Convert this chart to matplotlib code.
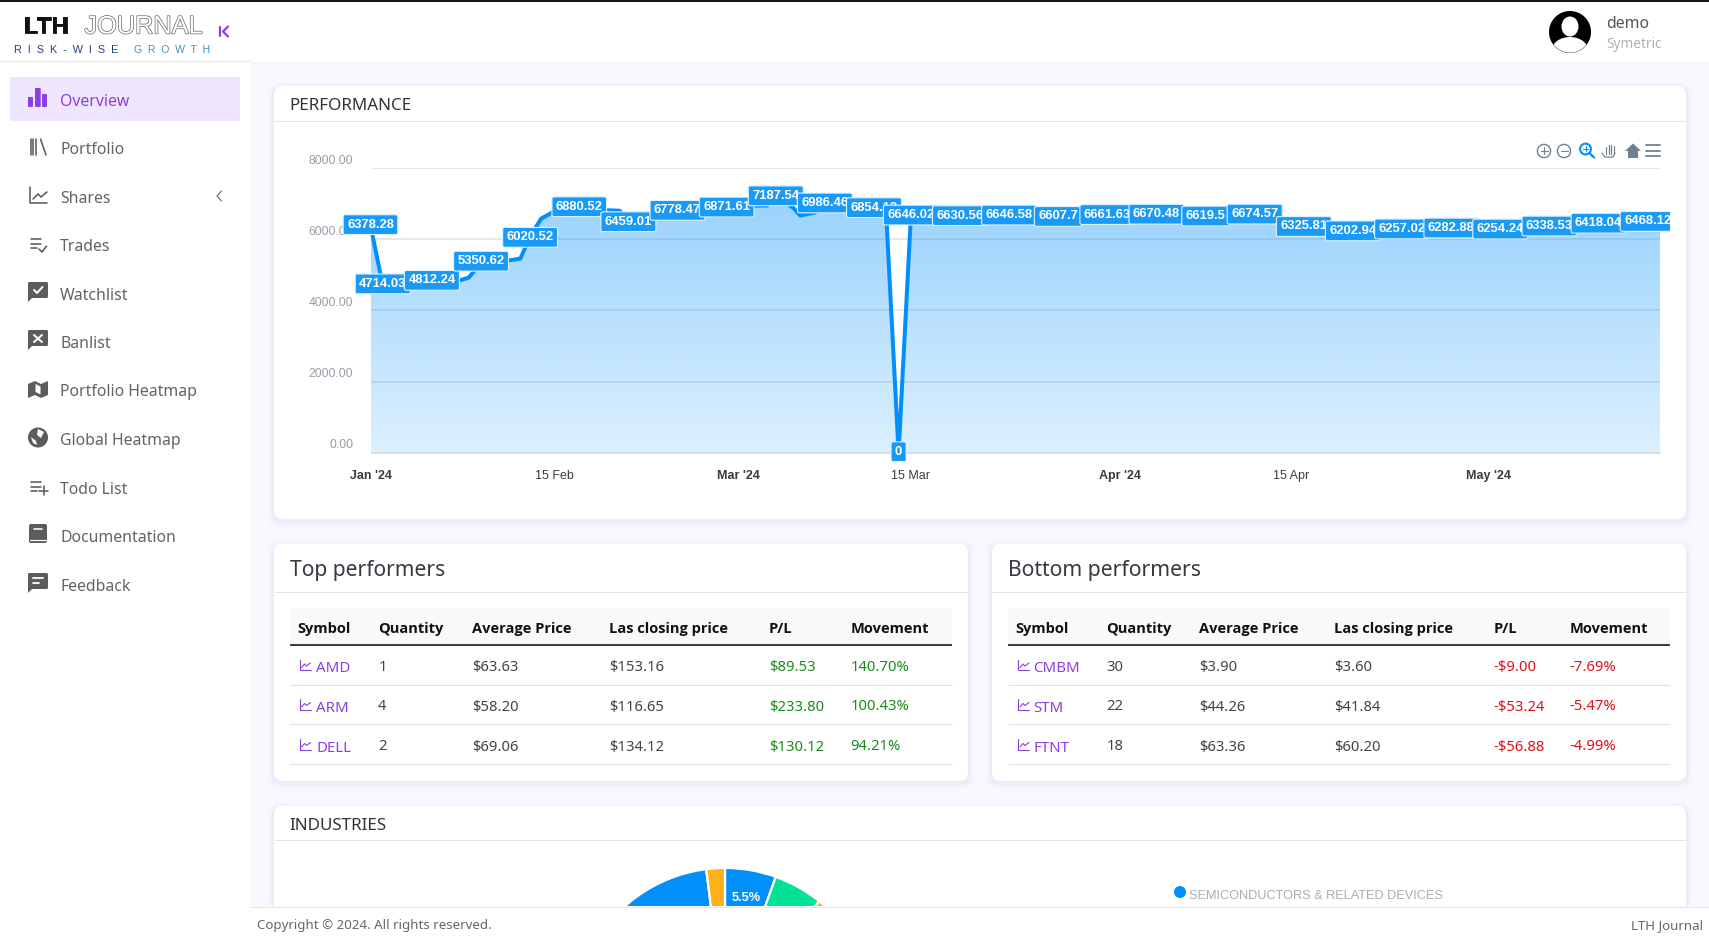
import numpy as np
import matplotlib
matplotlib.use("Agg")
import matplotlib.pyplot as plt
from matplotlib.patches import Rectangle, FancyBboxPatch, Circle, Ellipse, Polygon
from matplotlib.transforms import ScaledTranslation
import matplotlib.patheffects as pe

W, H = 1709, 938
PAGE = "#f8f9ff"
PURPLE = "#8a3fe0"
GREY = "#5c5c5c"
BLUE = "#008FFB"

# ---- data -------------------------------------------------------------
line_days = [0, 1, 5, 7.2, 8, 8.6, 9, 11.2, 12.2, 12.6, 13, 13.4, 13.9, 14.8, 17, 19.5, 20.3, 21, 25, 29,
             31.5, 32.3, 33, 34.4, 35, 36.2, 37, 41, 42, 43, 44, 48, 52, 56, 60, 64, 68, 72, 76, 80, 84,
             88, 92, 96, 100, 104, 105]
line_values = [6378.28, 4714.03, 4812.24, 4837, 4920, 5170, 5350.62, 5400, 5455, 5765, 6020.52, 6300, 6580, 6750,
               6880.52, 6810, 6800, 6459.01, 6778.47, 6871.61, 6945, 6945, 7187.54, 6890, 6665, 6750,
               6986.46, 6854.12, 6650, 0, 6646.02, 6630.56, 6646.58, 6607.7, 6661.63, 6670.48, 6619.5,
               6674.57, 6325.81, 6202.94, 6257.02, 6282.88, 6254.24, 6338.53, 6418.04, 6468.12, 6468.12]
label_days = [0, 1, 5, 9, 13, 17, 21, 25, 29, 33, 37, 41, 43, 44, 48, 52, 56, 60, 64, 68, 72, 76, 80, 84,
              88, 92, 96, 100, 104]
label_values = ["6378.28", "4714.03", "4812.24", "5350.62", "6020.52", "6880.52", "6459.01", "6778.47",
                "6871.61", "7187.54", "6986.46", "6854.12", "0", "6646.02", "6630.56", "6646.58", "6607.7",
                "6661.63", "6670.48", "6619.5", "6674.57", "6325.81", "6202.94", "6257.02", "6282.88",
                "6254.24", "6338.53", "6418.04", "6468.12"]
y_ticks = [0, 2000, 4000, 6000, 8000]
x_tick_days = [0, 15, 30, 44, 61, 75, 91]
x_tick_labels = ["Jan '24", "15 Feb", "Mar '24", "15 Mar", "Apr '24", "15 Apr", "May '24"]
x_tick_bold = [True, False, True, False, True, False, True]

menu_items = ["Overview", "Portfolio", "Shares", "Trades", "Watchlist", "Banlist", "Portfolio Heatmap",
              "Global Heatmap", "Todo List", "Documentation", "Feedback"]
table_head = ["Symbol", "Quantity", "Average Price", "Las closing price", "P/L", "Movement"]
top_rows = [["AMD", "1", "$63.63", "$153.16", "$89.53", "140.70%"],
            ["ARM", "4", "$58.20", "$116.65", "$233.80", "100.43%"],
            ["DELL", "2", "$69.06", "$134.12", "$130.12", "94.21%"]]
bottom_rows = [["CMBM", "30", "$3.90", "$3.60", "-$9.00", "-7.69%"],
               ["STM", "22", "$44.26", "$41.84", "-$53.24", "-5.47%"],
               ["FTNT", "18", "$63.36", "$60.20", "-$56.88", "-4.99%"]]
pie_values = [5.5, 5.3, 12, 16, 16, 15, 15.2, 13, 2]
pie_colors = ["#008FFB", "#00E396", "#FEB019", "#FF4560", "#775DD0", "#008FFB", "#00E396", "#008FFB", "#FEB019"]

# ---- canvas helpers -----------------------------------------------------
fig = plt.figure(figsize=(W / 100, H / 100), dpi=100, facecolor=PAGE)


def full_axes(z):
    a = fig.add_axes([0, 0, 1, 1], zorder=z)
    a.set_xlim(0, W)
    a.set_ylim(H, 0)
    a.axis("off")
    a.patch.set_alpha(0)
    return a


bg = full_axes(0)
top = full_axes(5)


def px_axes(x0, y0, x1, y1, z):
    return fig.add_axes([x0 / W, 1 - y1 / H, (x1 - x0) / W, (y1 - y0) / H], zorder=z)


def T(a, x, y, s, px, color="#444444", weight="normal", ha="left", family="Noto Sans", **kw):
    return a.text(x, y, s, fontsize=px * 0.72, color=color, fontweight=weight, ha=ha, va="baseline",
                  family=family, **kw)


def rect(a, x0, y0, x1, y1, color, z=1, **kw):
    a.add_patch(Rectangle((x0, y0), x1 - x0, y1 - y0, facecolor=color, edgecolor="none", zorder=z, **kw))


def hline(a, x0, x1, y, color="#e4e4e4", lw=1.0, z=3):
    a.plot([x0, x1], [y, y], color=color, lw=lw * 0.72, zorder=z, solid_capstyle="butt")


def poly(a, pts, color=GREY, lw=1.6, close=False, z=4, fill=False):
    xs, ys = zip(*pts)
    if fill:
        a.add_patch(Polygon(pts, closed=True, facecolor=color, edgecolor="none", zorder=z))
    else:
        a.plot(xs, ys, color=color, lw=lw * 0.72, zorder=z, solid_capstyle="round", solid_joinstyle="round")


def rrect(a, x0, y0, x1, y1, r, color, z=2, alpha=1.0):
    a.add_patch(FancyBboxPatch((x0 + r, y0 + r), x1 - x0 - 2 * r, y1 - y0 - 2 * r,
                               boxstyle=f"round,pad={r},rounding_size={r}", facecolor=color, edgecolor="none",
                               zorder=z, alpha=alpha))


def card(x0, y0, x1, y1):
    for g, al in ((7, 0.10), (4, 0.16), (2, 0.22)):
        rrect(bg, x0 - g, y0 - g + 2, x1 + g, y1 + g + 2, 10, "#dcdcf6", z=1, alpha=al)
    rrect(bg, x0, y0, x1, y1, 9, "white", z=2)


# ---- page furniture ------------------------------------------------------
rect(bg, 0, 0, W, 62, "white", z=1)
for i, al in enumerate((0.10, 0.06, 0.03)):
    rect(bg, 250, 62 + i, W, 63 + i, "#c8c8e8", z=1, alpha=al)
rect(top, 0, 0, 250, H, "white", z=0)
rect(top, 0, 0, W, 2, "#16161a", z=6)
hline(top, 0, 250, 61.3, "#e8e8e8", 1.2)

# logo
T(top, 23.5, 33.5, "LTH", 24, "#111111", "bold", family="Liberation Sans",
  path_effects=[pe.withStroke(linewidth=0.6, foreground="#111111")])
T(top, 84.5, 33.5, "JOURNAL", 25.3, "white", "normal", family="Liberation Sans",
  path_effects=[pe.withStroke(linewidth=1.0, foreground="#666666")])
T(top, 14, 53, "R  I  S  K  -  W  I  S  E", 10.8, "#25407f", family="Liberation Sans")
T(top, 134, 53, "G  R  O  W  T  H", 10.5, "#3d93c9", family="Liberation Sans")
poly(top, [(220, 27), (220, 36)], PURPLE, 2.2)
poly(top, [(228, 26.5), (223, 31.5), (228, 36.5)], PURPLE, 2.2)

# sidebar
row_y = [99.5, 147.5, 196.5, 244.5, 293.5, 341.5, 390, 438.5, 487.5, 535.5, 584.5]
rect(top, 10, 77, 240, 121, "#efe5fd", z=1)
for i, (lab, y) in enumerate(zip(menu_items, row_y)):
    T(top, 60.3, y + 6.1, lab, 15.8, PURPLE if i == 0 else "#636363")
for x0, x1, y0 in ((28, 33, 97), (35, 40.7, 88), (42, 47, 94)):
    rrect(top, x0, y0, x1, 107, 1, PURPLE, z=4)
for x in (30.8, 33.3, 35.8):
    poly(top, [(x, 139), (x, 155)], GREY, 1.6)
poly(top, [(40.5, 139), (46, 155)], GREY, 1.6)
poly(top, [(30, 187), (30, 203.5), (47, 203.5)], GREY, 1.6)
poly(top, [(33, 199), (38, 194), (41, 197), (47, 192)], GREY, 1.6)
for yy, xe in ((239.5, 41), (244, 41), (248.5, 37)):
    poly(top, [(30.5, yy), (xe, yy)], GREY, 1.6)
poly(top, [(39, 249), (42, 252), (46.5, 246)], GREY, 1.6)


def bubble(y0, y1):
    rrect(top, 28, y0, 48, y1, 1.5, GREY, z=4)
    poly(top, [(28, y1 - 1), (28, y1 + 4), (33, y1 - 1)], GREY, fill=True)


bubble(282, 298)
poly(top, [(34, 290), (37, 293), (42.5, 287)], "white", 2, z=5)
bubble(330, 346)
poly(top, [(34, 335), (42, 342)], "white", 2, z=5)
poly(top, [(42, 335), (34, 342)], "white", 2, z=5)
poly(top, [(28, 384), (35, 381), (41, 384), (48, 381), (48, 395), (41, 398), (35, 395), (28, 398)], GREY, fill=True)
poly(top, [(35.5, 384), (40.5, 386.5), (40.5, 394.5), (35.5, 392)], "white", fill=True, z=5)
top.add_patch(Circle((38, 437.5), 10, facecolor=GREY, edgecolor="none", zorder=4))
poly(top, [(38, 429), (44, 432), (41, 438), (37, 435)], "white", fill=True, z=5)
poly(top, [(31, 437), (36, 441), (37, 445), (33, 443)], "white", fill=True, z=5)
for yy, xe in ((482, 41), (487, 41), (491.5, 37)):
    poly(top, [(30.5, yy), (xe, yy)], GREY, 1.6)
poly(top, [(39, 491), (48, 491)], GREY, 1.6)
poly(top, [(43.5, 486.5), (43.5, 495)], GREY, 1.6)
rrect(top, 29, 524, 47, 543, 2, GREY, z=4)
poly(top, [(30, 540), (46, 540)], "white", 1.2, z=5)
poly(top, [(34, 529), (42, 529)], "white", 1.6, z=5)
bubble(573, 589)
poly(top, [(33, 578), (43, 578)], "white", 1.8, z=5)
poly(top, [(33, 583), (39, 583)], "white", 1.8, z=5)
poly(top, [(221.5, 191), (217, 196), (221.5, 201)], "#707070", 1.2)

# user
top.add_patch(Circle((1570, 32), 21, facecolor="black", edgecolor="none", zorder=3))
top.add_patch(Ellipse((1570, 26.5), 17, 20, facecolor="white", edgecolor="none", zorder=4))
sh = Ellipse((1570, 50), 36, 26, facecolor="white", edgecolor="none", zorder=4)
top.add_patch(sh)
sh.set_clip_path(Circle((1570, 32), 20.7, transform=top.transData))
T(top, 1606.3, 28, "demo", 15.8, "#555555")
T(top, 1606.3, 48, "Symetric", 13.7, "#b2b2b2")

# cards
card(274, 86, 1686, 519)
hline(bg, 274, 1686, 121.5)
T(bg, 289.5, 110.5, "PERFORMANCE", 17, "#333333")

card(274, 543.5, 968, 781)
hline(bg, 274, 968, 591.7)
T(bg, 290, 575.8, "Top performers", 21, "#343a40")

card(992, 543.5, 1686, 781)
hline(bg, 992, 1686, 591.7)
T(bg, 1008, 575.8, "Bottom performers", 21.2, "#343a40")


def table(rows, x0, x1, cols, sym_icon_x, sym_text_x, num_color):
    rect(bg, x0, 608, x1, 645, "#f8f9fa", z=3)
    hline(bg, x0, x1, 645.3, "#111111", 1.6, z=4)
    for c, lab in zip(cols, table_head):
        T(bg, c - 0.8, 632.8, lab, 14.6, "#111111", "bold", zorder=5, family="Open Sans")
    for r, yb, yl in zip(rows, (671, 710.5, 750.5), (685.3, 724.3, 764.3)):
        hline(bg, x0, x1, yl, "#e2e2e2", 1.2)
        xx = sym_icon_x
        poly(bg, [(xx, yb - 11), (xx, yb - 0.5), (xx + 11, yb - 0.5)], PURPLE, 1.1, z=5)
        poly(bg, [(xx + 2, yb - 3.5), (xx + 5, yb - 7), (xx + 7, yb - 5), (xx + 11, yb - 8)], PURPLE, 1.1, z=5)
        T(bg, sym_text_x - 0.5, yb + 1, r[0], 15, PURPLE, zorder=5)
        for j in (1, 2, 3):
            T(bg, cols[j] - 0.8, yb, r[j], 14.8, "#444444", zorder=5)
        for j in (4, 5):
            T(bg, cols[j] - 0.5, yb, r[j], 14.8, num_color, zorder=5)


table(top_rows, 290, 952, [298, 379, 473, 609.5, 769.5, 851], 299.5, 317, "#1d8a1d")
table(bottom_rows, 1008, 1670, [1016, 1107, 1200, 1335, 1494, 1570], 1018, 1034, "#d9141e")

card(274, 805.5, 1686, 960)
hline(bg, 274, 1686, 840.3)
T(bg, 289.5, 829.7, "INDUSTRIES", 17, "#333333")

# pie (lower part hidden by the footer)
pax = px_axes(575, 868, 875, 1168, 1)
pax.pie(pie_values, colors=pie_colors, startangle=90, counterclock=False, radius=1,
        wedgeprops=dict(edgecolor="white", linewidth=1.6),
        autopct=lambda p: f"{p:.1f}%" if 5 < p < 6 else "", pctdistance=0.81,
        textprops=dict(color="white", fontsize=12.8 * 0.72, fontweight="bold", family="Liberation Sans"))
pax.set_xlim(-1, 1)
pax.set_ylim(-1, 1)

bg.add_patch(Circle((1180, 892), 6, facecolor=BLUE, edgecolor="none", zorder=5))
T(bg, 1188.7, 899, "SEMICONDUCTORS & RELATED DEVICES", 12.8, "#a9adb7", family="Liberation Sans", zorder=5)

# footer
rect(top, 250, 906, W, H, "white", z=1)
hline(top, 250, W, 906.6, "#e6e6e6", 1.2)
T(top, 257, 928.8, "Copyright © 2024. All rights reserved.", 13.3, "#666666")
T(top, 1703, 928.8, "LTH Journal", 13.3, "#666666", ha="right")

# ---- performance chart ----------------------------------------------------
ax = px_axes(370.5, 168, 1660, 452.8, 2)
ax.patch.set_alpha(0)
ax.set_xlim(0, 105)
ax.set_ylim(0, 8000)
for s in ("top", "left", "right"):
    ax.spines[s].set_visible(False)
ax.spines["bottom"].set_color("#e0e0e0")
ax.set_axisbelow(True)
ax.yaxis.grid(True, color="#e8e8e8", lw=1.4)
ax.xaxis.grid(False)
ax.tick_params(length=0)
ax.set_yticks(y_ticks)
ax.set_yticklabels([f"{v:.2f}" for v in y_ticks], fontsize=12.3 * 0.72, color="#9c9cab", family="Liberation Sans")
for tl in ax.get_yticklabels():
    tl.set_transform(tl.get_transform() + ScaledTranslation(-0.125, 0.09, fig.dpi_scale_trans))
ax.set_xticks(x_tick_days)
ax.set_xticklabels(x_tick_labels, fontsize=12.5 * 0.72, color="#373d3f", family="Liberation Sans")
for tl, b in zip(ax.get_xticklabels(), x_tick_bold):
    tl.set_fontweight("bold" if b else "normal")
ax.tick_params(axis="x", pad=12.2)

area = ax.fill_between(line_days, line_values, 0, facecolor="none", edgecolor="none", zorder=2)
alpha_grad = np.linspace(0.40, 0.14, 256)[:, None]
rgba = np.zeros((256, 1, 4))
rgba[..., 0], rgba[..., 1], rgba[..., 2] = 0 / 255, 143 / 255, 251 / 255
rgba[..., 3] = alpha_grad
im = ax.imshow(rgba, extent=[0, 105, 0, max(line_values)], aspect="auto", origin="upper", zorder=2)
im.set_clip_path(area.get_paths()[0], ax.transData)
ax.set_xlim(0, 105)
ax.set_ylim(0, 8000)
ax.plot(line_days, line_values, color=BLUE, lw=4 * 0.72, zorder=3, clip_on=False, solid_joinstyle="round")

clip_rect = Rectangle((-40, -800), 145.82, 9600, transform=ax.transData)
lookup = dict(zip(line_days, line_values))
for i, (d, s) in enumerate(zip(label_days, label_values)):
    t = ax.annotate(s, (d, lookup[d]), xytext=(0, 0.8), textcoords="offset points", ha="center",
                    va="center", color="white", fontsize=13 * 0.72, fontweight="bold", family="Liberation Sans",
                    zorder=10 + i, annotation_clip=False,
                    bbox=dict(boxstyle="round,pad=0.3,rounding_size=0.15", facecolor="#1a9af7",
                              edgecolor="#dff1ff", linewidth=0.8))
    t.set_clip_path(clip_rect)
    t.set_clip_on(True)

# chart toolbar
ICON = "#6e8192"
for cx, sign in ((1544, True), (1564, False)):
    bg.add_patch(Circle((cx, 151), 6.6, facecolor="none", edgecolor=ICON, lw=1.0, zorder=5))
    poly(bg, [(cx - 3.5, 151), (cx + 3.5, 151)], ICON, 1.1, z=5)
    if sign:
        poly(bg, [(cx, 147.5), (cx, 154.5)], ICON, 1.1, z=5)
bg.add_patch(Circle((1585.5, 149), 5.4, facecolor="none", edgecolor=BLUE, lw=1.5, zorder=5))
poly(bg, [(1589.5, 153), (1594, 157.5)], BLUE, 2.2, z=5)
poly(bg, [(1583, 149), (1588, 149)], BLUE, 1.1, z=5)
poly(bg, [(1585.5, 146.5), (1585.5, 151.5)], BLUE, 1.1, z=5)
for x, yt in ((1606, 147), (1608.5, 145), (1611, 145), (1613.5, 146.5)):
    poly(bg, [(x, yt), (x, 154)], ICON, 1.2, z=5)
poly(bg, [(1602, 153), (1605, 157), (1613, 157), (1615, 153)], ICON, 1.2, z=5)
poly(bg, [(1625, 151), (1633, 143.5), (1641, 151), (1638, 151), (1638, 158), (1628, 158), (1628, 151)], ICON,
     fill=True, z=5)
for yy in (145.5, 151, 156):
    poly(bg, [(1646, yy), (1660, yy)], ICON, 1.8, z=5)

fig.savefig("out.png", dpi=100, facecolor=PAGE)
